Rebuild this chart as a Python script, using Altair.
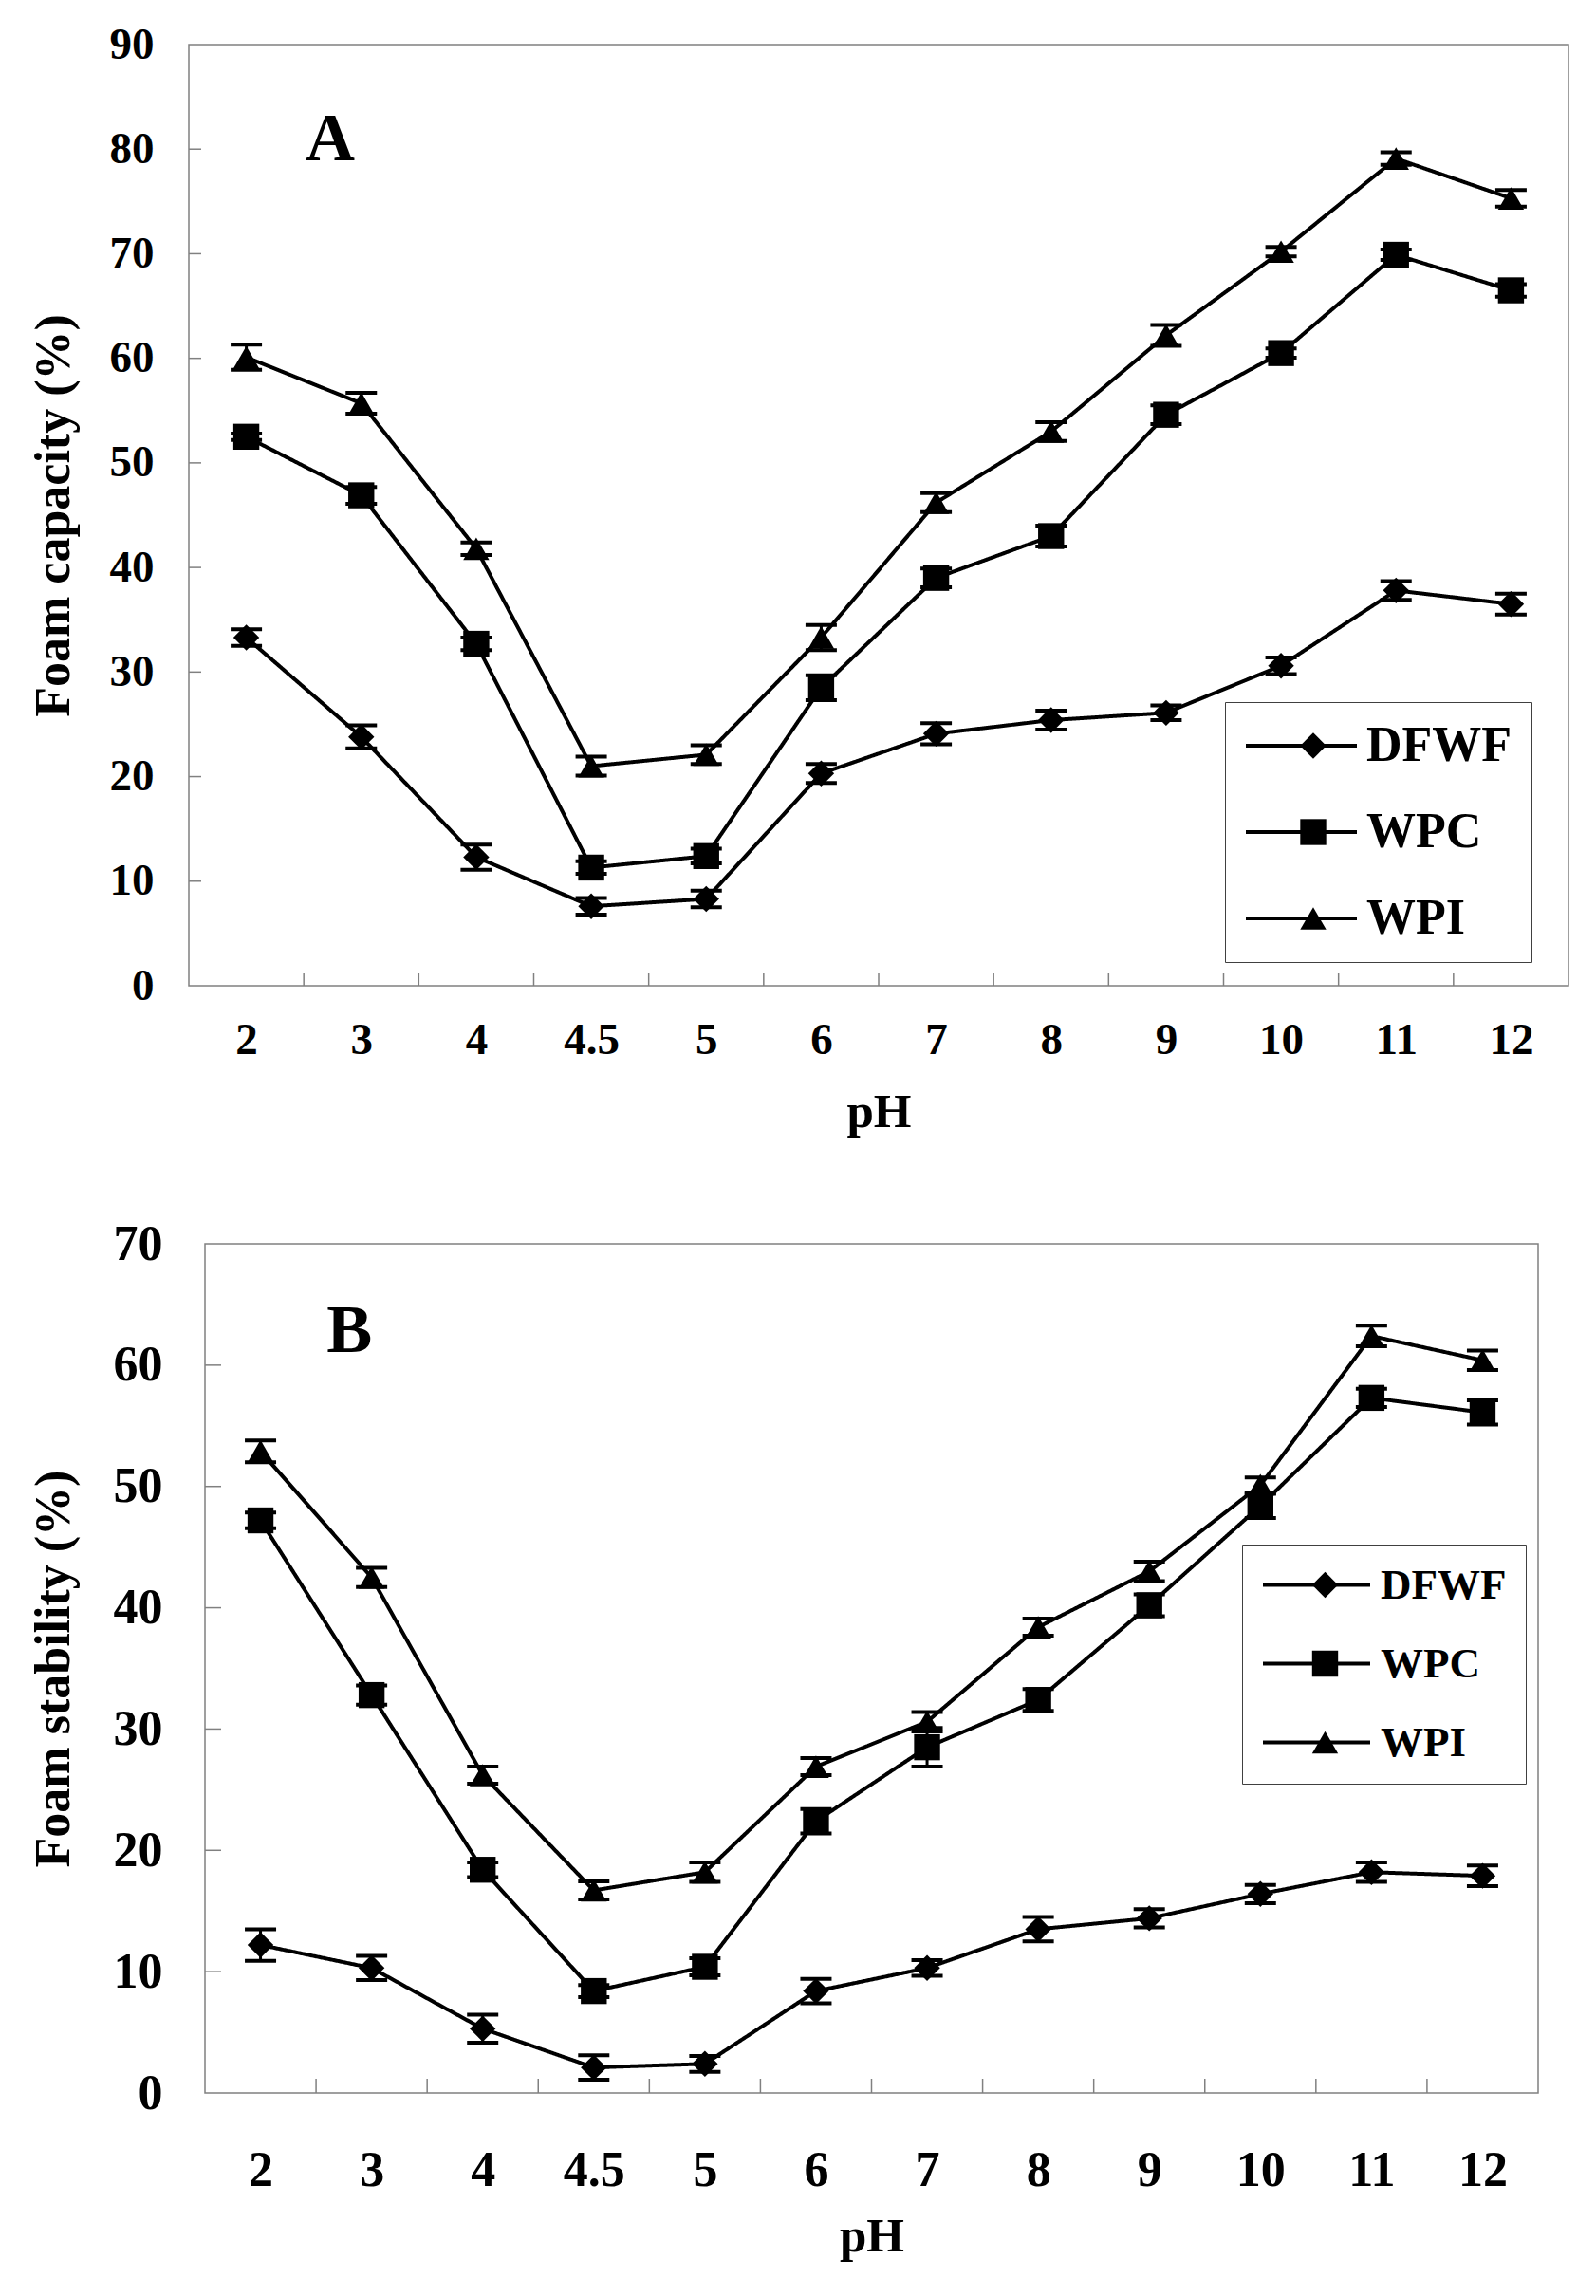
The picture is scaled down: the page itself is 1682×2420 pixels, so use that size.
import altair as alt
import pandas as pd

# ---------------- data ----------------
ph_labels = ["2", "3", "4", "4.5", "5", "6", "7", "8", "9", "10", "11", "12"]
series_names = ["DFWF", "WPC", "WPI"]

# Panel A: foam capacity (%)
cap_dfwf = [33.3, 23.8, 12.3, 7.6, 8.3, 20.3, 24.1, 25.4, 26.1, 30.6, 37.8, 36.5]
cap_wpc = [52.5, 46.9, 32.7, 11.3, 12.4, 28.5, 39.0, 43.0, 54.6, 60.5, 69.9, 66.5]
cap_wpi = [60.1, 55.7, 41.8, 21.0, 22.1, 33.3, 46.2, 53.0, 62.2, 70.2, 79.1, 75.3]
cap_dfwf_err = [0.8, 1.1, 1.2, 0.8, 0.8, 0.9, 1.0, 0.9, 0.7, 0.8, 0.9, 1.0]
cap_wpc_err = [0.3, 0.8, 0.6, 0.6, 0.7, 1.2, 0.9, 1.0, 0.9, 0.45, 0.5, 0.6]
cap_wpi_err = [1.2, 1.0, 0.6, 0.9, 0.9, 1.2, 0.9, 0.9, 1.0, 0.45, 0.6, 0.8]

# Panel B: foam stability (%)
stab_dfwf = [12.2, 10.3, 5.3, 2.1, 2.4, 8.4, 10.3, 13.5, 14.4, 16.4, 18.2, 17.9]
stab_wpc = [47.2, 32.8, 18.4, 8.4, 10.4, 22.4, 28.5, 32.4, 40.2, 48.4, 57.3, 56.1]
stab_wpi = [52.9, 42.5, 26.2, 16.7, 18.2, 26.9, 30.6, 38.4, 43.0, 50.1, 62.4, 60.4]
stab_dfwf_err = [1.3, 1.0, 1.15, 1.0, 0.65, 1.0, 0.65, 1.0, 0.75, 0.75, 0.8, 0.85]
stab_wpc_err = [0.65, 0.8, 0.6, 0.5, 0.7, 1.0, 1.6, 0.9, 0.9, 1.0, 0.75, 1.0]
stab_wpi_err = [0.9, 0.8, 0.7, 0.75, 0.8, 0.7, 0.8, 0.7, 0.8, 0.65, 0.85, 0.8]

cap_ticks = [0, 10, 20, 30, 40, 50, 60, 70, 80, 90]
stab_ticks = [0, 10, 20, 30, 40, 50, 60, 70]
x_boundaries = [0.5, 1.5, 2.5, 3.5, 4.5, 5.5, 6.5, 7.5, 8.5, 9.5, 10.5]

shape_range = ["diamond", "square", "triangle-up"]

FONT = "Liberation Serif"
GREY = "#808080"
SYM = 750


def make_df(vals, errs):
    rows = []
    for name, v, e in zip(series_names, vals, errs):
        for i, (val, err) in enumerate(zip(v, e)):
            rows.append({"idx": i, "series": name, "line_series": name,
                         "value": val, "lo": val - err, "hi": val + err})
    return pd.DataFrame(rows)


def panel(vals, errs, ymax, yticks, ytitle, letter, letter_pos, w, h,
          lab_fs, lab_pad_y, title_pad_y, lab_pad_x, title_pad_x,
          ytick_len, xtick_len, leg_x, leg_y, leg_fs, leg_rowpad,
          leg_line, leg_labeloff):
    df = make_df(vals, errs)
    xs = alt.Scale(domain=[-0.5, 11.5], nice=False, zero=False)
    ys = alt.Scale(domain=[0, ymax], nice=False, zero=True)
    label_expr = "[" + ",".join("'" + s + "'" for s in ph_labels) + "][datum.value]"

    xaxis = alt.Axis(values=list(range(12)), labelExpr=label_expr, title="pH",
                     ticks=False, domain=False, grid=False, labelFlush=False,
                     labelFont=FONT, labelFontSize=lab_fs, labelFontWeight="bold",
                     labelColor="black", labelPadding=lab_pad_x,
                     titleFont=FONT, titleFontSize=51, titleFontWeight="bold",
                     titleColor="black", titlePadding=title_pad_x)
    yaxis = alt.Axis(values=yticks, format="d", title=ytitle,
                     ticks=False, domain=False, grid=False, labelFlush=False,
                     labelFont=FONT, labelFontSize=lab_fs, labelFontWeight="bold",
                     labelColor="black", labelPadding=lab_pad_y,
                     titleFont=FONT, titleFontSize=52, titleFontWeight="bold",
                     titleColor="black", titlePadding=title_pad_y)

    X = lambda f: alt.X(f, scale=xs, axis=xaxis)
    Y = lambda f: alt.Y(f, scale=ys, axis=yaxis)

    line_legend = alt.Legend(
        title=None, orient="none", legendX=leg_x, legendY=leg_y,
        symbolType="stroke", symbolSize=leg_line ** 2, symbolStrokeWidth=4,
        symbolStrokeColor="black", labelFont=FONT, labelFontSize=leg_fs,
        labelFontWeight="bold", labelColor="black", labelOffset=leg_labeloff,
        rowPadding=leg_rowpad, padding=20, strokeColor="#404040",
        clipHeight=leg_fs, labelLimit=400)
    shape_legend = alt.Legend(
        title=None, orient="none",
        legendX=round(leg_x + (leg_line + 4) / 2 - (SYM ** 0.5) / 2), legendY=leg_y,
        symbolSize=SYM, symbolFillColor="black", symbolStrokeColor="black",
        symbolOpacity=1, labelFont=FONT, labelFontSize=leg_fs,
        labelFontWeight="bold", labelExpr="' '", labelOpacity=0,
        labelOffset=leg_labeloff, rowPadding=leg_rowpad, padding=20,
        clipHeight=leg_fs, labelLimit=400)

    base = alt.Chart(df)
    lines = base.mark_line(color="black", strokeWidth=4).encode(
        x=X("idx:Q"), y=Y("value:Q"),
        strokeDash=alt.StrokeDash(
            "line_series:N",
            scale=alt.Scale(range=[[1, 0], [1, 0], [1, 0]]),
            legend=line_legend),
    )
    stems = base.mark_rule(color="black", strokeWidth=3).encode(
        x=X("idx:Q"), y=Y("lo:Q"), y2="hi:Q")
    caps_hi = base.mark_tick(color="black", orient="horizontal", size=33,
                             thickness=4, opacity=1).encode(x=X("idx:Q"), y=Y("hi:Q"))
    caps_lo = base.mark_tick(color="black", orient="horizontal", size=33,
                             thickness=4, opacity=1).encode(x=X("idx:Q"), y=Y("lo:Q"))
    points = base.mark_point(filled=True, color="black", opacity=1, size=SYM).encode(
        x=X("idx:Q"), y=Y("value:Q"),
        shape=alt.Shape("series:N",
                        scale=alt.Scale(domain=series_names, range=shape_range),
                        legend=shape_legend),
    )
    yt = alt.Chart(pd.DataFrame({"value": yticks[1:-1]})).mark_rule(
        color=GREY, strokeWidth=1.5).encode(
        y=Y("value:Q"), x=alt.value(0), x2=alt.value(ytick_len))
    xt = alt.Chart(pd.DataFrame({"idx": x_boundaries})).mark_rule(
        color=GREY, strokeWidth=1.5).encode(
        x=X("idx:Q"), y=alt.value(h - xtick_len), y2=alt.value(h))
    letter_df = pd.DataFrame({"idx": [letter_pos[0]], "value": [letter_pos[1]],
                              "t": [letter]})
    lt = alt.Chart(letter_df).mark_text(font=FONT, fontSize=72, fontWeight="bold",
                                        color="black", align="center",
                                        baseline="middle").encode(
        x=X("idx:Q"), y=Y("value:Q"), text="t:N")
    layered = alt.layer(yt, xt, lines, stems, caps_hi, caps_lo, points, lt).properties(
        width=w, height=h)
    # an invisible 1px spacer in front lets each panel keep its own left offset
    spacer = alt.Chart(pd.DataFrame({"s": [0]})).mark_point(
        opacity=0, size=1).properties(
        width=1, height=1, view=alt.ViewBackground(stroke="transparent"))
    return alt.hconcat(spacer, layered, spacing=0).resolve_scale(
        strokeDash="independent", shape="independent"
    ).resolve_legend(strokeDash="independent", shape="independent")


top = panel([cap_dfwf, cap_wpc, cap_wpi], [cap_dfwf_err, cap_wpc_err, cap_wpi_err],
            90, cap_ticks, "Foam capacity (%)", "A", (0.73, 80.9),
            1454, 992, 47, 37, 32, 34, 28, 13, 13,
            1092, 693, 52, 39, 117, 8)
bottom = panel([stab_dfwf, stab_wpc, stab_wpi],
               [stab_dfwf_err, stab_wpc_err, stab_wpi_err],
               70, stab_ticks, "Foam stability (%)", "B", (0.80, 62.8),
               1405, 895, 52, 45, 36, 56, 19, 17, 15,
               1093, 317, 45, 37, 113, 9)

chart = alt.concat(top, bottom, columns=1, spacing=86).resolve_scale(
    strokeDash="independent", shape="independent"
).resolve_legend(
    strokeDash="independent", shape="independent"
).properties(
    padding={"left": 18, "top": 14, "right": 5, "bottom": 5}
).configure(font=FONT).configure_view(
    stroke=GREY, strokeWidth=1.5
).configure_axis(grid=False)

chart.save("out.html", embed_options={"renderer": "svg", "actions": False})
